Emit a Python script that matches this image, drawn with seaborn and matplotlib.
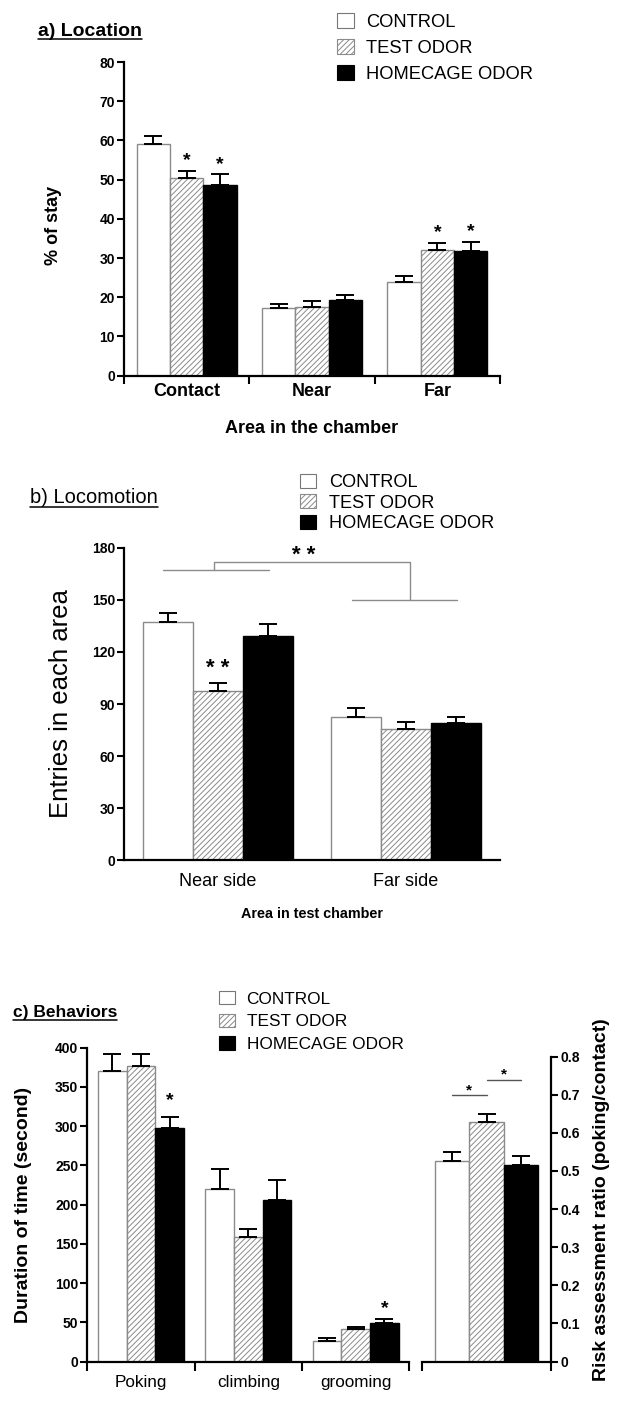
import numpy as np
import pandas as pd
import matplotlib
matplotlib.use("Agg")
import matplotlib.pyplot as plt
import seaborn as sns
from matplotlib.patches import Patch
from matplotlib.lines import Line2D
from matplotlib.container import BarContainer

# ---------------- data ----------------
groups = ["CONTROL", "TEST ODOR", "HOMECAGE ODOR"]

loc_areas = ["Contact", "Near", "Far"]
loc_control = [59.2, 17.2, 23.8]
loc_test = [50.3, 17.6, 32.1]
loc_home = [48.6, 19.4, 31.9]
loc_sem_control = [2.0, 1.2, 1.6]
loc_sem_test = [1.9, 1.4, 1.8]
loc_sem_home = [2.8, 1.3, 2.3]

mot_areas = ["Near side", "Far side"]
mot_control = [137.4, 82.7]
mot_test = [97.6, 75.8]
mot_home = [129.0, 78.9]
mot_sem_control = [4.8, 4.8]
mot_sem_test = [4.3, 4.0]
mot_sem_home = [7.2, 3.6]

beh_names = ["Poking", "climbing", "grooming"]
beh_control = [370.6, 219.4, 25.5]
beh_test = [376.3, 158.2, 40.8]
beh_home = [297.2, 205.4, 48.5]
beh_sem_control = [21.0, 25.5, 4.2]
beh_sem_test = [15.3, 10.9, 3.8]
beh_sem_home = [14.0, 26.2, 5.8]

ratio_name = ["ratio"]
ratio_control = [0.527]
ratio_test = [0.628]
ratio_home = [0.516]
ratio_sem_control = [0.022]
ratio_sem_test = [0.022]
ratio_sem_home = [0.023]

# ---------------- style ----------------
sns.set_style("ticks")
plt.rcParams["font.family"] = ["Liberation Sans", "DejaVu Sans"]
plt.rcParams["hatch.linewidth"] = 0.7
plt.rcParams["axes.edgecolor"] = "black"
plt.rcParams["xtick.color"] = "black"
plt.rcParams["ytick.color"] = "black"
plt.rcParams["text.color"] = "black"
plt.rcParams["axes.labelcolor"] = "black"

W, H = 617, 1402
fig = plt.figure(figsize=(W / 100, H / 100), dpi=100)


def fx(px):
    return px / W


def fy(py):
    return 1 - py / H


def make_axes(left, right, top, bottom):
    return fig.add_axes([fx(left), fy(bottom), fx(right) - fx(left), fy(top) - fy(bottom)])


BARS = {}


def draw_bars(ax, cats, means, sems):
    rows = []
    for g, m in zip(groups, means):
        for c, v in zip(cats, m):
            rows.append({"cat": c, "val": v, "grp": g})
    df = pd.DataFrame(rows)
    sns.barplot(data=df, x="cat", y="val", hue="grp", order=cats, hue_order=groups,
                palette=["white", "white", "black"], errorbar=None, width=0.8,
                legend=False, ax=ax)
    conts = [c for c in ax.containers if isinstance(c, BarContainer)]
    BARS[id(ax)] = conts
    for j, cont in enumerate(conts):
        for bar, s in zip(cont, sems[j]):
            if j == 0:
                bar.set_facecolor("white"); bar.set_edgecolor("#8a8a8a"); bar.set_linewidth(1.0)
            elif j == 1:
                bar.set_facecolor("white"); bar.set_edgecolor("#8a8a8a"); bar.set_linewidth(1.0)
                bar.set_hatch("//////")
            else:
                bar.set_facecolor("black"); bar.set_edgecolor("black"); bar.set_linewidth(1.0)
            x = bar.get_x() + bar.get_width() / 2
            top = bar.get_height()
            ax.errorbar(x, top, yerr=[[0], [s]], fmt="none", ecolor="black",
                        elinewidth=1.4, capsize=6.5, capthick=1.4, zorder=3)
    ax.set_xlabel("")
    ax.set_ylabel("")


def bar_top(ax, j, i):
    bar = BARS[id(ax)][j][i]
    return bar.get_x() + bar.get_width() / 2


def style_axes(ax, ylim, yticks, tick_fs=10, side="left"):
    ax.set_ylim(*ylim)
    ax.set_yticks(yticks)
    for s in ["top", "right", "left", "bottom"]:
        ax.spines[s].set_visible(False)
    ax.spines[side].set_visible(True)
    ax.spines["bottom"].set_visible(True)
    ax.spines[side].set_linewidth(1.6)
    ax.spines["bottom"].set_linewidth(1.6)
    if side == "right":
        ax.yaxis.tick_right()
        ax.yaxis.set_label_position("right")
    ax.tick_params(axis="y", direction="out", length=5, width=1.5, labelsize=tick_fs, pad=1.5,
                   left=(side == "left"), right=(side == "right"))
    for t in ax.get_yticklabels():
        t.set_fontweight("bold")


def star(ax, x, y, off, fs=14, text="*"):
    ax.annotate(text, (x, y), xytext=(0, off), textcoords="offset points",
                ha="center", va="baseline", fontsize=fs, fontweight="bold")


def legend(ax, xpx, ypx, fs, spacing):
    handles = [Patch(facecolor="white", edgecolor="#777777", linewidth=0.8),
               Patch(facecolor="white", edgecolor="#8a8a8a", hatch="//////", linewidth=0.8),
               Patch(facecolor="black", edgecolor="black", linewidth=0.8)]
    ax.legend(handles, groups, loc="upper left", bbox_to_anchor=(fx(xpx), fy(ypx)),
              bbox_transform=fig.transFigure, frameon=False, fontsize=fs,
              handlelength=0.9, handleheight=0.82, handletextpad=0.7,
              labelspacing=spacing, borderpad=0, borderaxespad=0)


titles = []


def title(xpx, ypx, text, weight, fs, gap):
    t = fig.text(fx(xpx), fy(ypx), text, fontsize=fs, fontweight=weight,
                 ha="left", va="baseline")
    titles.append((t, gap))


# ---------------- panel a ----------------
axA = make_axes(124, 500, 62, 375.7)
draw_bars(axA, loc_areas, [loc_control, loc_test, loc_home],
          [loc_sem_control, loc_sem_test, loc_sem_home])
style_axes(axA, (0, 80), range(0, 81, 10))
axA.set_xlim(-0.5, 2.5)
axA.set_xticks([-0.5, 0.5, 1.5, 2.5], minor=True)
axA.tick_params(axis="x", which="minor", length=6, width=1.5, direction="out")
axA.tick_params(axis="x", which="major", length=0, pad=5, labelsize=13)
for t in axA.get_xticklabels():
    t.set_fontweight("bold")
axA.set_ylabel("% of stay", fontsize=13, fontweight="bold")
axA.yaxis.set_label_coords(-0.165, 0.48)
axA.set_xlabel("Area in the chamber", fontsize=13, fontweight="bold")
axA.xaxis.set_label_coords(0.5, -0.142)
for (j, i) in [(1, 0), (2, 0), (1, 2), (2, 2)]:
    sems = [loc_sem_control, loc_sem_test, loc_sem_home][j]
    vals = [loc_control, loc_test, loc_home][j]
    star(axA, bar_top(axA, j, i), vals[i] + sems[i], 4.0)
legend(axA, 337, 13.5, 13.2, 0.46)
title(38, 36, "a) Location", "bold", 14, 3.3)

# ---------------- panel b ----------------
axB = make_axes(124, 500, 547.7, 860.3)
draw_bars(axB, mot_areas, [mot_control, mot_test, mot_home],
          [mot_sem_control, mot_sem_test, mot_sem_home])
style_axes(axB, (0, 180), range(0, 181, 30))
axB.set_xlim(-0.5, 1.5)
axB.tick_params(axis="x", which="major", length=0, pad=9, labelsize=13)
axB.set_ylabel("Entries in each area", fontsize=18.5)
axB.yaxis.set_label_coords(-0.136, 0.5)
axB.set_xlabel("Area in test chamber", fontsize=10.4, fontweight="bold")
axB.xaxis.set_label_coords(0.5, -0.148)
star(axB, bar_top(axB, 1, 0), mot_test[0] + mot_sem_test[0], 7.0, fs=16, text="* *")
gray = "#8c8c8c"
axB.plot([-0.29, 0.27], [167, 167], color=gray, lw=1, clip_on=False)
axB.plot([-0.02, -0.02, 1.02, 1.02], [167, 171.6, 171.6, 149.7], color=gray, lw=1, clip_on=False)
axB.plot([0.715, 1.27], [149.7, 149.7], color=gray, lw=1, clip_on=False)
axB.annotate("* *", (0.457, 171.6), xytext=(0, 1), textcoords="offset points",
             ha="center", va="baseline", fontsize=16, fontweight="bold")
legend(axB, 300, 473.5, 13.1, 0.18)
title(30, 503, "b) Locomotion", "normal", 14.5, 4)

# ---------------- panel c left ----------------
axC = make_axes(87.4, 409.4, 1047.7, 1361.5)
draw_bars(axC, beh_names, [beh_control, beh_test, beh_home],
          [beh_sem_control, beh_sem_test, beh_sem_home])
style_axes(axC, (0, 400), range(0, 401, 50))
axC.set_xlim(-0.5, 2.5)
axC.set_xticks([-0.5, 0.5, 1.5, 2.5], minor=True)
axC.tick_params(axis="x", which="minor", length=6.5, width=1.5, direction="out")
axC.tick_params(axis="x", which="major", length=0, pad=10, labelsize=12.3)
axC.set_ylabel("Duration of time (second)", fontsize=14, fontweight="bold")
axC.yaxis.set_label_coords(-0.172, 0.5)
star(axC, bar_top(axC, 2, 0), beh_home[0] + beh_sem_home[0], 8.5)
star(axC, bar_top(axC, 2, 2), beh_home[2] + beh_sem_home[2], 4.5)
legend(axC, 219, 991, 12.4, 0.4)
title(13, 1017, "c) Behaviors", "bold", 12.5, 2.5)

# ---------------- panel c right ----------------
axD = make_axes(422, 551, 1056.7, 1361.5)
draw_bars(axD, ratio_name, [ratio_control, ratio_test, ratio_home],
          [ratio_sem_control, ratio_sem_test, ratio_sem_home])
style_axes(axD, (0, 0.8), np.round(np.arange(0, 0.81, 0.1), 1), side="right")
axD.set_yticklabels(["0"] + [f"{v:.1f}" for v in np.arange(0.1, 0.81, 0.1)])
for t in axD.get_yticklabels():
    t.set_fontweight("bold")
axD.set_xlim(-0.5, 0.5)
axD.set_xticks([])
axD.set_xticks([-0.5, 0.5], minor=True)
axD.tick_params(axis="x", which="minor", length=6.5, width=1.5, direction="out")
axD.set_ylabel("Risk assessment ratio (poking/contact)", fontsize=14, fontweight="bold")
axD.yaxis.set_label_coords(1.326, 0.53)
x0, x1, x2 = bar_top(axD, 0, 0), bar_top(axD, 1, 0), bar_top(axD, 2, 0)
axD.plot([x0, x1], [0.6985, 0.6985], color="#555555", lw=1)
axD.plot([x1, x2], [0.7387, 0.7387], color="#555555", lw=1)
axD.annotate("*", ((x0 + x1) / 2, 0.6985), xytext=(0, 1), textcoords="offset points",
             ha="center", va="baseline", fontsize=11, fontweight="bold")
axD.annotate("*", ((x1 + x2) / 2, 0.7387), xytext=(0, 1), textcoords="offset points",
             ha="center", va="baseline", fontsize=11, fontweight="bold")

# ---------------- underlines for panel titles ----------------
fig.canvas.draw()
r = fig.canvas.get_renderer()
for t, gap in titles:
    bb = t.get_window_extent(r)
    xb, yb = t.get_position()
    ybase = yb * H - gap
    fig.add_artist(Line2D([bb.x0 / W, bb.x1 / W], [ybase / H, ybase / H],
                          transform=fig.transFigure, color="black", lw=1.1))

fig.savefig("out.png", dpi=100)
